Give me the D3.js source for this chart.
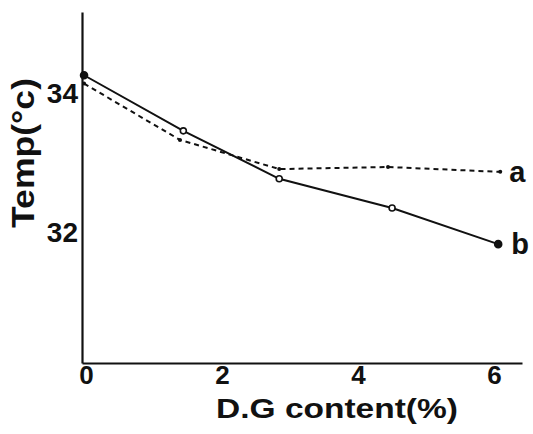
<!DOCTYPE html>
<html>
<head>
<meta charset="utf-8">
<script src="https://cdn.jsdelivr.net/npm/d3@7"></script>
<style>
  body { margin: 0; background: #fff; }
  text { font-family: "Liberation Sans", "DejaVu Sans", sans-serif; font-weight: bold; fill: #111; }
</style>
</head>
<body>
<svg id="chart" width="533" height="434"></svg>
<script>
// values
var xTicks = [0, 2, 4, 6];
var yTicks = [32, 34];

var seriesA_x = [0, 1.41, 2.87, 4.47, 6.12];
var seriesA_y = [34.12, 33.31, 32.89, 32.92, 32.85];

var seriesB_x = [0, 1.46, 2.87, 4.53, 6.09];
var seriesB_y = [34.24, 33.44, 32.75, 32.33, 31.81];

var xLabel = "D.G content(%)";
var yLabel = "Temp(°c)";

var svg = d3.select("#chart");

var x = d3.scaleLinear()
  .domain([-0.03, 6.44])
  .range([82, 522]);

var y = d3.scaleLinear()
  .domain([30.1, 35.15])
  .range([363, 12]);

// axes
var xAxis = svg.append("g")
  .attr("transform", "translate(0," + y.range()[0] + ")")
  .call(d3.axisBottom(x).tickValues(xTicks).tickSize(0).tickPadding(3).tickFormat(d3.format("d")));

var yAxis = svg.append("g")
  .attr("transform", "translate(" + x.range()[0] + ",0)")
  .call(d3.axisLeft(y).tickValues(yTicks).tickSize(0).tickPadding(4).tickFormat(d3.format("d")));

svg.selectAll(".domain")
  .attr("stroke", "#111")
  .attr("stroke-width", 2.2);

xAxis.selectAll(".tick text")
  .attr("font-size", 26)
  .attr("dx", 2);

yAxis.selectAll(".tick text")
  .attr("font-size", 28)
  .attr("dy", "0.38em");

// axis titles
svg.append("text")
  .attr("x", 337)
  .attr("y", 418)
  .attr("text-anchor", "middle")
  .attr("font-size", 28)
  .attr("textLength", 242)
  .attr("lengthAdjust", "spacingAndGlyphs")
  .text(xLabel);

svg.append("text")
  .attr("transform", "translate(34,153) rotate(-90)")
  .attr("text-anchor", "middle")
  .attr("font-size", 31)
  .attr("textLength", 150)
  .attr("lengthAdjust", "spacingAndGlyphs")
  .text(yLabel);

// lines
var line = d3.line()
  .x(function(d) { return x(d.x); })
  .y(function(d) { return y(d.y); });

var dataA = seriesA_x.map(function(v, i) { return {x: v, y: seriesA_y[i]}; });
var dataB = seriesB_x.map(function(v, i) { return {x: v, y: seriesB_y[i]}; });

svg.append("path")
  .datum(dataA)
  .attr("fill", "none")
  .attr("stroke", "#111")
  .attr("stroke-width", 2)
  .attr("stroke-dasharray", "5,4")
  .attr("d", line);

svg.append("path")
  .datum(dataB)
  .attr("fill", "none")
  .attr("stroke", "#111")
  .attr("stroke-width", 2)
  .attr("d", line);

// markers
svg.selectAll(".ptA")
  .data(dataA)
  .enter().append("circle")
    .attr("class", "ptA")
    .attr("cx", function(d) { return x(d.x); })
    .attr("cy", function(d) { return y(d.y); })
    .attr("r", 2)
    .attr("fill", "#111");

svg.selectAll(".ptB")
  .data(dataB)
  .enter().append("circle")
    .attr("class", "ptB")
    .attr("cx", function(d) { return x(d.x); })
    .attr("cy", function(d) { return y(d.y); })
    .attr("r", function(d, i) { return (i === 0 || i === dataB.length - 1) ? 3.5 : 3; })
    .attr("fill", function(d, i) { return (i === 0 || i === dataB.length - 1) ? "#111" : "#fff"; })
    .attr("stroke", "#111")
    .attr("stroke-width", 1.6);

// series labels
var lastA = dataA[dataA.length - 1], lastB = dataB[dataB.length - 1];
svg.append("text")
  .attr("x", x(lastA.x) + 9)
  .attr("y", y(lastA.y) + 10)
  .attr("font-size", 29)
  .text("a");

svg.append("text")
  .attr("x", x(lastB.x) + 13)
  .attr("y", y(lastB.y) + 10)
  .attr("font-size", 29)
  .text("b");
</script>
</body>
</html>
